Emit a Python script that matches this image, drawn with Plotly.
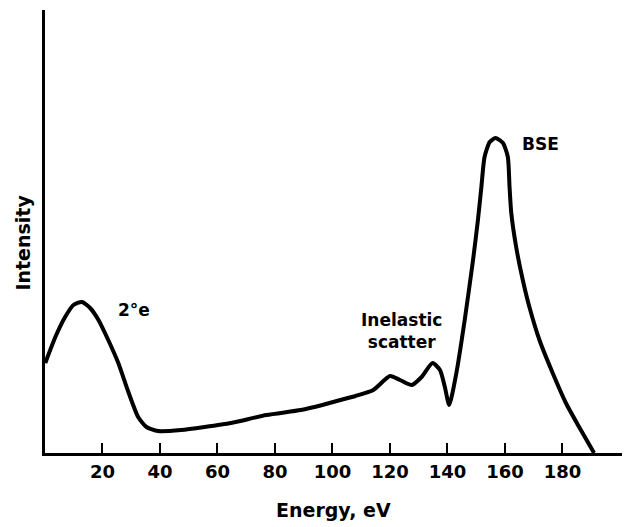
import plotly.graph_objects as go

# Energy (eV) and intensity (arbitrary units)
energy = [0.1, 3.6, 7, 9.9, 12.8, 15.7, 18.6, 22, 25.5, 29, 32.4, 35.3, 39.3,
          47.4, 55.5, 64.7, 77, 89, 96.5, 102.8, 108, 114.2, 120, 123.5, 127.6,
          131, 134.8, 137.4, 139.1, 140.6, 143.1, 146, 148.9, 150.6, 151.8,
          152.9, 154.7, 156.7, 159.3, 161, 161.6, 162.2, 163.9, 166.2, 168.5,
          172, 176.6, 181.2, 185.8, 191]
intensity = [90, 116, 136, 148, 151, 145, 133, 113, 90, 61, 36, 26, 22,
             23, 26, 30, 38, 43, 48, 53, 57, 63, 77, 73, 68,
             76, 90, 83, 66, 48, 80, 133, 193, 233, 266,
             296, 311, 315, 310, 296, 266, 240, 206, 173, 146,
             113, 80, 50, 26, 0]

tick_vals = [20, 40, 60, 80, 100, 120, 140, 160, 180]
tick_text = ["20", "40", "60", "80", "100", "120", "140", "160", "180"]

labels_x = [31, 124, 172.5]
labels_y = [143, 122, 309]
labels_text = ["2°e", "Inelastic<br>scatter", "BSE"]

FAM = "DejaVu Sans, Liberation Sans, Arial, sans-serif"
font = dict(family=FAM, color="black", size=17)
title_font = dict(family=FAM, color="black", size=19)

fig = go.Figure()
fig.add_trace(go.Scatter(
    x=energy, y=intensity, mode="lines",
    line=dict(color="black", width=4, shape="spline", smoothing=0.6),
    hoverinfo="skip", showlegend=False))

for lx, ly, lt in zip(labels_x, labels_y, labels_text):
    fig.add_annotation(x=lx, y=ly, text="<b>" + lt + "</b>", showarrow=False,
                       font=font, xanchor="center", yanchor="middle")

# axis titles
fig.add_annotation(xref="paper", yref="paper", x=0.494, y=0, yshift=-57,
                   text="<b>Energy, eV</b>", showarrow=False, font=title_font,
                   xanchor="center", yanchor="middle")
fig.add_annotation(xref="paper", yref="paper", x=0, y=0.475, xshift=-22,
                   text="<b>Intensity</b>", showarrow=False, font=title_font,
                   textangle=-90, xanchor="center", yanchor="middle")

# the page body has an 8px margin, so the figure is sized to fit the window
fig.update_layout(
    width=622, height=519,
    margin=dict(l=37, r=0, t=2, b=74),
    paper_bgcolor="white", plot_bgcolor="white",
    font=font,
    xaxis=dict(range=[0, 203.5], tickvals=tick_vals, ticktext=["<b>%s</b>" % t for t in tick_text],
               ticks="inside", ticklen=10, tickwidth=2, tickcolor="black",
               tickfont=dict(family=FAM, color="black", size=18),
               showline=True, linecolor="black", linewidth=3,
               showgrid=False, zeroline=False, automargin=False),
    yaxis=dict(range=[0, 443], showticklabels=False, ticks="",
               showline=True, linecolor="black", linewidth=3,
               showgrid=False, zeroline=False, automargin=False),
)

fig.write_html("out.html")
